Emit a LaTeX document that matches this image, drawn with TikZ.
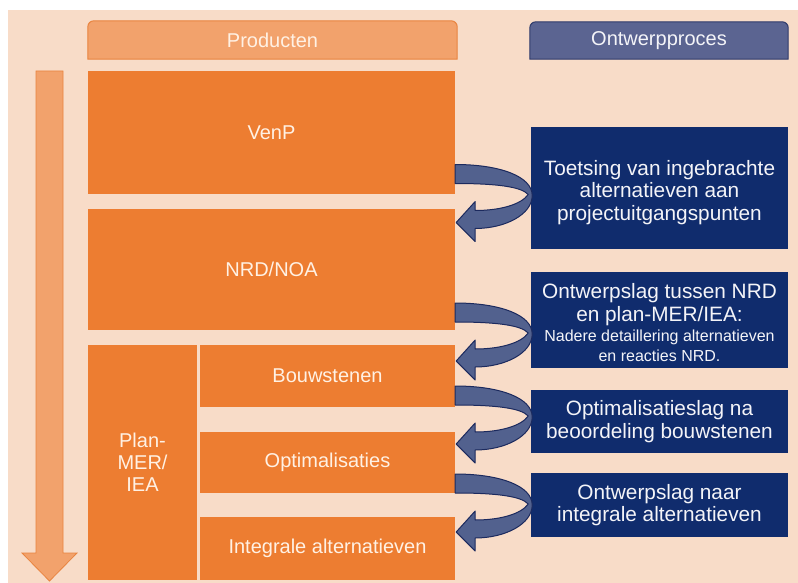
\documentclass[tikz,border=0pt]{standalone}
\usepackage{fontspec}
\setmainfont{Liberation Sans}
\definecolor{bgpeach}{HTML}{F8DCC8}
\definecolor{oran}{HTML}{ED7D31}
\definecolor{hdrfill}{HTML}{F2A26C}
\definecolor{hdrline}{HTML}{E9843F}
\definecolor{ohdrfill}{HTML}{5B6491}
\definecolor{ohdrline}{HTML}{2E3A6A}
\definecolor{navy}{HTML}{102C6D}
\definecolor{arrfill}{HTML}{52618E}
\definecolor{arrline}{HTML}{1C2A5E}
\definecolor{cream}{HTML}{FFF1E4}
\definecolor{paletxt}{HTML}{F4F4F8}
\tikzset{
  big/.style={font=\fontsize{20}{22}\selectfont},
  bigger/.style={font=\fontsize{20.8}{22.6}\selectfont},
  obox/.style={fill=oran, draw=none, text=cream, big, align=center, inner sep=0pt},
  nbox/.style={fill=navy, draw=none, text=paletxt, bigger, align=center, inner sep=0pt},
  ntext/.style={text=paletxt, bigger, align=center, inner sep=0pt},
  hdrnode/.style={draw=none, text=cream, big, inner sep=0pt},
  ohdrnode/.style={draw=none, text=paletxt, big, inner sep=0pt},
  carrow/.style={fill=arrfill, draw=arrline, line width=1pt, line join=round},
  curvarrow/.pic={
    \path[carrow] (0,0) .. controls (45,0) and (77,12) .. (77,31)
      .. controls (77,50) and (50,64) .. (20,64)
      -- (20,77) -- (1,58) -- (20,37) -- (20,46)
      .. controls (45,46) and (66,40) .. (73,30)
      .. controls (66,22) and (40,19) .. (0,19) -- cycle;
  }
}
\begin{document}
\begin{tikzpicture}[x=1pt,y=-1pt]
\useasboundingbox (0,0) rectangle (798,583);
\fill[white] (0,0) rectangle (798,583);
\fill[bgpeach] (8,10) rectangle (798,583);
% headers
\node[hdrnode, minimum width=369, minimum height=38] (prod) at (272.5,40) {};
\path[fill=hdrfill, draw=hdrline, line width=1pt] (prod.south west) [rounded corners=6pt] -- (prod.north west) -- (prod.north east) [sharp corners] -- (prod.south east) -- cycle;
\node[hdrnode] at (prod.center) {Producten};
\node[ohdrnode, minimum width=258, minimum height=37] (ontw) at (659,40.5) {};
\path[fill=ohdrfill, draw=ohdrline, line width=1pt] (ontw.south west) [rounded corners=6pt] -- (ontw.north west) -- (ontw.north east) [sharp corners] -- (ontw.south east) -- cycle;
\node[ohdrnode] at (ontw.center) {Ontwerpproces};
% left time arrow
\path[fill=hdrfill, draw=hdrline, line width=0.8pt] (36,71) -- (63,71) -- (63,553) -- (77,553) -- (49.5,581) -- (22,553) -- (36,553) -- cycle;
% product boxes
\node[obox, minimum width=367, minimum height=123] (venp) at (271.5,132.5) {VenP};
\node[obox, minimum width=367, minimum height=121] (nrd) at (271.5,269.5) {NRD/NOA};
\node[obox, minimum width=109, minimum height=235] (plan) at (142.5,462.5) {Plan-\\MER/\\IEA};
\node[obox, minimum width=255, minimum height=62] (bouw) at (327.5,376) {Bouwstenen};
\node[obox, minimum width=255, minimum height=61] (opti) at (327.5,462.5) {Optimalisaties};
\node[obox, minimum width=255, minimum height=63] (integ) at (327.5,548.5) {Integrale alternatieven};
% process boxes
\node[nbox, minimum width=257, minimum height=122] (p1) at (659.5,188) {};
\node[ntext] (p1t) at (659.5,192.5) {Toetsing van ingebrachte\\alternatieven aan\\projectuitgangspunten};
\node[nbox, minimum width=257, minimum height=96] (p2) at (659.5,320) {};
\node[ntext] (p2t) at (659.5,322.5) {Ontwerpslag tussen NRD\\en plan-MER/IEA:\\[-2pt]{\fontsize{16}{17}\selectfont Nadere detaillering alternatieven}\\[-3pt]{\fontsize{16}{17}\selectfont en reacties NRD.}};
\node[nbox, minimum width=257, minimum height=63] (p3) at (659.5,421.5) {Optimalisatieslag na\\beoordeling bouwstenen};
\node[nbox, minimum width=257, minimum height=64] (p4) at (659.5,505) {Ontwerpslag naar\\integrale alternatieven};
% curved arrows
\pic at ([yshift=-32pt]venp.east) {curvarrow};
\pic at ([yshift=-33.5pt]nrd.east) {curvarrow};
\pic at ([yshift=-10pt]bouw.east) {curvarrow};
\pic at ([yshift=-11.5pt]opti.east) {curvarrow};
\end{tikzpicture}
\end{document}
